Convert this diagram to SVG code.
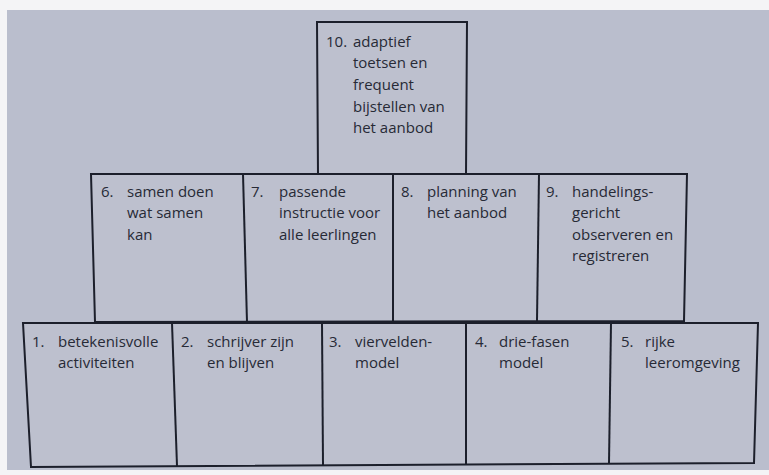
<svg xmlns="http://www.w3.org/2000/svg" width="769" height="475" viewBox="0 0 769 475">
<style>
.box{fill:#bdc0ce;stroke:#1c1f2b;stroke-width:2;stroke-linejoin:miter}
.div{fill:none;stroke:#1c1f2b;stroke-width:2}
text{font-family:"Open Sans","Noto Sans","Liberation Sans",sans-serif;font-size:15px;fill:#272a36}
</style>
<rect x="0" y="0" width="769" height="475" fill="#f4f4f6"/>
<rect x="7" y="10" width="762" height="460" fill="#babecd"/>
<g id="node10">
<path class="box" d="M317,22 L467,22 L466,174 L318,174 Z"/>
<text x="326" y="47">10.</text>
<text x="353" y="47">adaptief</text>
<text x="353" y="68">toetsen en</text>
<text x="353" y="90">frequent</text>
<text x="353" y="112">bijstellen van</text>
<text x="353" y="133">het aanbod</text>
</g>
<g id="row2">
<path class="box" d="M91,174 L687,174 L684,321 L95,322 Z"/>
</g>
<g id="node6">
<text x="101" y="197">6.</text>
<text x="127" y="197">samen doen</text>
<text x="127" y="218">wat samen</text>
<text x="127" y="240">kan</text>
</g>
<g id="node7">
<text x="251" y="197">7.</text>
<text x="279" y="197">passende</text>
<text x="279" y="218">instructie voor</text>
<text x="279" y="240">alle leerlingen</text>
</g>
<g id="node8">
<text x="401" y="197">8.</text>
<text x="427" y="197">planning van</text>
<text x="427" y="218">het aanbod</text>
</g>
<g id="node9">
<text x="546" y="197">9.</text>
<text x="572" y="197">handelings-</text>
<text x="572" y="218">gericht</text>
<text x="572" y="240">observeren en</text>
<text x="572" y="261">registreren</text>
</g>
<g id="row3">
<path class="box" d="M23,323 L758,323 L754,463 L31,467 Z"/>
</g>
<g id="node1">
<text x="32" y="347">1.</text>
<text x="58" y="347">betekenisvolle</text>
<text x="58" y="368">activiteiten</text>
</g>
<g id="node2">
<text x="181" y="347">2.</text>
<text x="207" y="347">schrijver zijn</text>
<text x="207" y="368">en blijven</text>
</g>
<g id="node3">
<text x="329" y="347">3.</text>
<text x="355" y="347">viervelden-</text>
<text x="355" y="368">model</text>
</g>
<g id="node4">
<text x="475" y="347">4.</text>
<text x="499" y="347">drie-fasen</text>
<text x="499" y="368">model</text>
</g>
<g id="node5">
<text x="621" y="347">5.</text>
<text x="645" y="347">rijke</text>
<text x="645" y="368">leeromgeving</text>
</g>
<g id="connectors">
<path class="div" d="M243,174 L247,322"/>
<path class="div" d="M393,174 L393,322"/>
<path class="div" d="M539,174 L537,321"/>
<path class="div" d="M172,323 L177,466"/>
<path class="div" d="M322,323 L323,465"/>
<path class="div" d="M466,323 L466,464"/>
<path class="div" d="M611,323 L609,463"/>
</g>
</svg>
